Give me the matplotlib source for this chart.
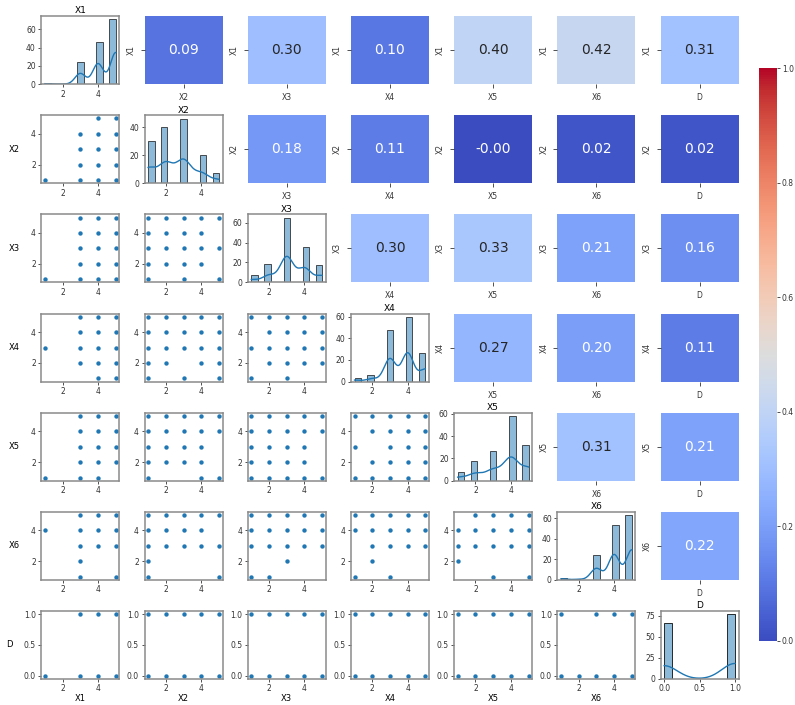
import numpy as np
import pandas as pd
import matplotlib
matplotlib.use('Agg')
import matplotlib.pyplot as plt
from matplotlib.ticker import MaxNLocator
from matplotlib.cm import ScalarMappable
from matplotlib.colors import Normalize
import seaborn as sns

names = ['X1', 'X2', 'X3', 'X4', 'X5', 'X6', 'D']
levels = [1, 2, 3, 4, 5]
d_levels = [0, 1]

# answer counts per level (1..5); D is a 0/1 flag
counts = {
    'X1': [1, 0, 24, 46, 71],
    'X2': [30, 40, 46, 20, 7],
    'X3': [7, 18, 65, 36, 17],
    'X4': [3, 6, 48, 60, 26],
    'X5': [8, 18, 27, 58, 32],
    'X6': [2, 1, 24, 53, 63],
    'D': [66, 77],
}

# upper triangle of the correlation matrix, row by row
corr_rows = [
    [0.09, 0.30, 0.10, 0.40, 0.42, 0.31],
    [0.18, 0.11, -0.004, 0.02, 0.02],
    [0.30, 0.33, 0.21, 0.16],
    [0.27, 0.20, 0.11],
    [0.31, 0.21],
    [0.22],
]

ALL = [1, 2, 3, 4, 5]
# observed (x, y) combinations: {y value: [x values]} for (row var, col var)
combos = {
    ('X2', 'X1'): {1: [1, 3, 4, 5], 2: [3, 4, 5], 3: [3, 4, 5], 4: [3, 4, 5], 5: [4, 5]},
    ('X3', 'X1'): {1: [1, 3, 4, 5], 2: [3, 4, 5], 3: [3, 4, 5], 4: [3, 4, 5], 5: [3, 4, 5]},
    ('X3', 'X2'): {1: [1, 3, 5], 2: [1, 2, 3, 4], 3: ALL, 4: [1, 2, 3, 4], 5: ALL},
    ('X4', 'X1'): {1: [4, 5], 2: [3, 4, 5], 3: [1, 3, 4, 5], 4: [3, 4, 5], 5: [3, 4, 5]},
    ('X4', 'X2'): {1: [1, 3, 5], 2: [1, 2, 4, 5], 3: ALL, 4: ALL, 5: ALL},
    ('X4', 'X3'): {1: [1, 3], 2: [2, 3, 4, 5], 3: ALL, 4: [2, 3, 4, 5], 5: ALL},
    ('X5', 'X1'): {1: [1, 3, 4], 2: [3, 4, 5], 3: [3, 4, 5], 4: [3, 4, 5], 5: [3, 4, 5]},
    ('X5', 'X2'): {1: [1, 4, 5], 2: [1, 2, 3, 4], 3: [1, 2, 3, 4], 4: ALL, 5: ALL},
    ('X5', 'X3'): {1: ALL, 2: [1, 2, 3, 4], 3: [1, 2, 3, 4], 4: ALL, 5: ALL},
    ('X5', 'X4'): {1: ALL, 2: [2, 3, 4, 5], 3: [1, 3, 4, 5], 4: [2, 3, 4, 5], 5: ALL},
    ('X6', 'X1'): {1: [3, 5], 2: [3], 3: [3, 4, 5], 4: [1, 3, 4, 5], 5: [3, 4, 5]},
    ('X6', 'X2'): {1: [1, 5], 2: [1], 3: ALL, 4: [1, 2, 3, 4], 5: ALL},
    ('X6', 'X3'): {1: [1, 2], 2: [3], 3: ALL, 4: ALL, 5: ALL},
    ('X6', 'X4'): {1: [1, 3], 2: [2], 3: [2, 3, 4, 5], 4: ALL, 5: ALL},
    ('X6', 'X5'): {1: [3, 5], 2: [1], 3: ALL, 4: ALL, 5: [2, 3, 4, 5]},
    ('D', 'X1'): {0: [1, 3, 4, 5], 1: [3, 4, 5]},
    ('D', 'X2'): {0: ALL, 1: ALL},
    ('D', 'X3'): {0: ALL, 1: ALL},
    ('D', 'X4'): {0: ALL, 1: ALL},
    ('D', 'X5'): {0: ALL, 1: ALL},
    ('D', 'X6'): {0: ALL, 1: [1, 3, 4, 5]},
}

TICK = 5.5
LABEL = 6
FRAME = '#8a8a8a'
NICE = [1, 2, 2.5, 5, 10]


def lims(name):
    return (-0.05, 1.05) if name == 'D' else (0.8, 5.2)


def style_frame(ax):
    for s in ax.spines.values():
        s.set_color(FRAME)
        s.set_linewidth(1.1)
    ax.tick_params(labelsize=TICK, length=2.5, width=0.6, pad=1.5, colors='#333333')


fig, axes = plt.subplots(7, 7, figsize=(7.95, 7.05), dpi=100)
fig.subplots_adjust(left=0.052, right=0.929, bottom=0.037, top=0.977,
                    wspace=0.324, hspace=0.46)

for i, yn in enumerate(names):
    for j, xn in enumerate(names):
        ax = axes[i, j]
        if i == j:
            vals = d_levels if yn == 'D' else levels
            data = np.repeat(vals, counts[yn])
            sns.histplot(x=data, ax=ax, kde=True, color='C0',
                         line_kws={'linewidth': 1})
            ax.set_title(yn, fontsize=6.5, pad=2)
            ax.set_xlabel('')
            ax.set_ylabel('')
            ax.set_xlim(*lims(yn))
            ax.xaxis.set_major_locator(MaxNLocator(3, steps=[1, 2, 5, 10]))
            ax.yaxis.set_major_locator(MaxNLocator(4, steps=NICE))
            style_frame(ax)
        elif i > j:
            pts = combos[(yn, xn)]
            xs = [x for y in pts for x in pts[y]]
            ys = [y for y in pts for x in pts[y]]
            ax.scatter(xs, ys, s=10, color='C0', linewidths=0)
            ax.set_xlim(*lims(xn))
            ax.set_ylim(*lims(yn))
            ax.xaxis.set_major_locator(MaxNLocator(3, steps=[1, 2, 5, 10]))
            ax.yaxis.set_major_locator(MaxNLocator(3, steps=[1, 2, 5, 10]))
            style_frame(ax)
        else:
            v = corr_rows[i][j - i - 1]
            cell = pd.DataFrame([[v]], index=[yn], columns=[xn])
            sns.heatmap(cell, ax=ax, cmap='coolwarm', vmin=0, vmax=1,
                        annot=True, fmt='.2f', cbar=False,
                        annot_kws={'fontsize': 10})
            ax.tick_params(labelsize=TICK, length=3, width=0.6, colors='#333333')

        if i == 6 and j < 6:
            ax.set_xlabel(xn, fontsize=LABEL, labelpad=0.5)
        if j == 0 and i > 0:
            ax.set_ylabel(yn, fontsize=LABEL, rotation=0, ha='right',
                          va='center', labelpad=8)

# shared colour scale for the correlation cells
cax = fig.add_axes([759 / 795, 1 - 641 / 705, 18 / 795, 573 / 705])
cb = fig.colorbar(ScalarMappable(Normalize(0, 1), cmap='coolwarm'), cax=cax,
                  format='%.1f')
cb.outline.set_visible(False)
cb.set_ticks([0.0, 0.2, 0.4, 0.6, 0.8, 1.0])
cb.ax.tick_params(labelsize=TICK, length=2, width=0.6, pad=1.5, colors='#333333')

fig.savefig('out.png', dpi=100)
